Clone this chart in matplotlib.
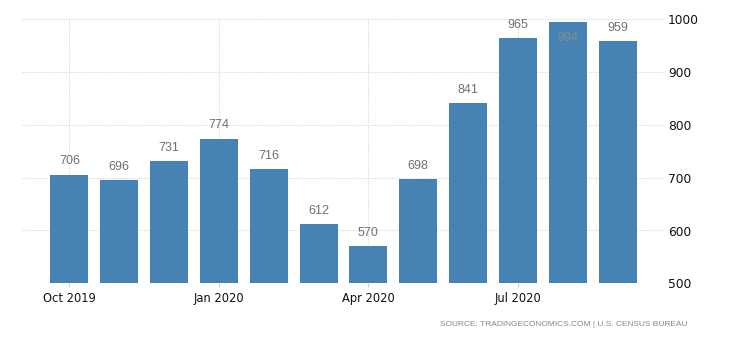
import matplotlib
matplotlib.use("Agg")
import matplotlib.pyplot as plt

months = ["Oct 2019", "Nov 2019", "Dec 2019", "Jan 2020", "Feb 2020", "Mar 2020",
          "Apr 2020", "May 2020", "Jun 2020", "Jul 2020", "Aug 2020", "Sep 2020"]
values = [706, 696, 731, 774, 716, 612, 570, 698, 841, 965, 994, 959]
tick_labels = ["Oct 2019", "Jan 2020", "Apr 2020", "Jul 2020"]
y_ticks = [500, 600, 700, 800, 900, 1000]

W, H = 730, 340
fig = plt.figure(figsize=(W / 100, H / 100), dpi=100)
ax = fig.add_axes([22 / W, (H - 283.3) / H, (664 - 22) / W, (283.3 - 19.3) / H])

x = list(range(len(values)))
bar_color = "#4682b4"
ax.bar(x, values, width=0.76, color=bar_color, zorder=2)

ax.set_xlim(-0.95, 11.93)
ax.set_ylim(500, 1000)

tick_pos = [months.index(t) for t in tick_labels]
ax.set_xticks(tick_pos)
ax.set_xticklabels(tick_labels, fontsize=8.3, color="#111111", family="DejaVu Sans")
ax.set_yticks(y_ticks)
ax.yaxis.tick_right()
ax.set_yticklabels([str(v) for v in y_ticks], fontsize=8.8, color="#111111",
                   family="DejaVu Sans")
ax.tick_params(axis="y", length=0, pad=3)
ax.tick_params(axis="x", length=3, color="#cccccc", pad=3)

for s in ax.spines.values():
    s.set_visible(False)

ax.grid(True, axis="both", color="#cfcfcf", linestyle=(0, (1, 1.5)), linewidth=0.7, zorder=0)

for xi, v in zip(x, values):
    if v > 980:
        ax.annotate(str(v), (xi, v), xytext=(0, -11), textcoords="offset points",
                    ha="center", va="center", fontsize=9, color="#8a8a8a",
                    family="Liberation Sans", annotation_clip=False)
    else:
        ax.annotate(str(v), (xi, v), xytext=(0, 9.5), textcoords="offset points",
                    ha="center", va="center", fontsize=9, color="#707070",
                    family="Liberation Sans", annotation_clip=False)

fig.text(688 / W, 1 - 324 / H, "SOURCE: TRADINGECONOMICS.COM | U.S. CENSUS BUREAU",
         ha="right", va="center", fontsize=6, color="#888888", family="Liberation Sans")

fig.savefig("out.png", dpi=100)
